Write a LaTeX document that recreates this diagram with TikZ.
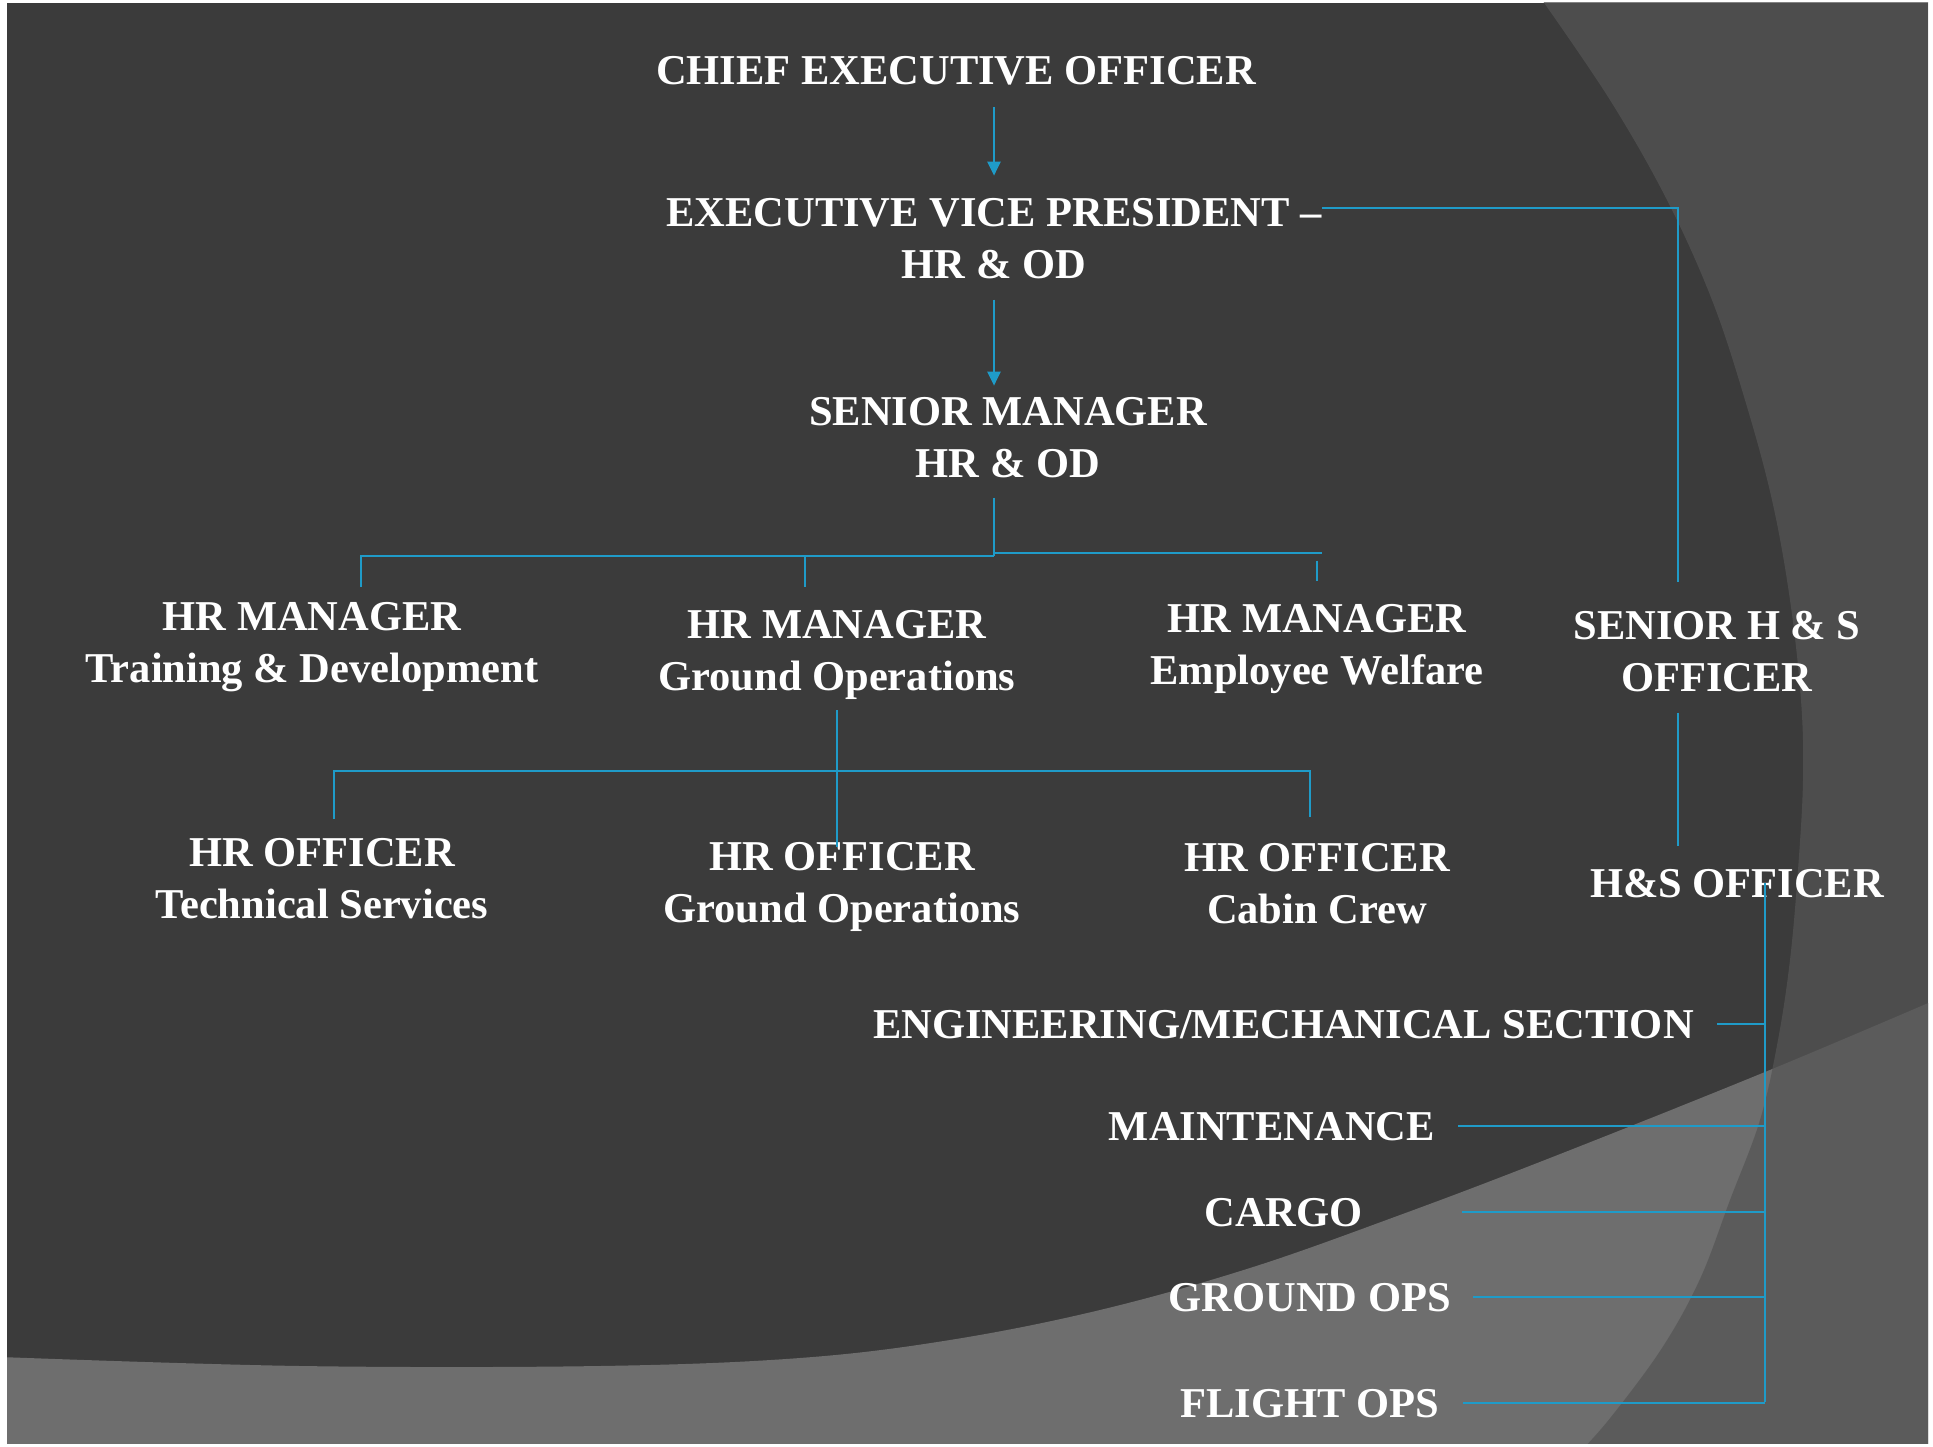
\documentclass[tikz,border=0pt]{standalone}
\usepackage{fontspec}
\setmainfont{Liberation Serif}
\usetikzlibrary{arrows.meta,calc}
\definecolor{bgdark}{HTML}{3B3B3B}
\definecolor{bandgray}{HTML}{6E6E6E}
\definecolor{sidegray}{HTML}{555555}
\definecolor{linkblue}{HTML}{1F9BC8}
\begin{document}
\begin{tikzpicture}[x=1pt,y=-1pt,
  lbl/.style={text=white, font=\fontsize{42.5}{52}\selectfont\bfseries, align=center, inner sep=0pt, anchor=base},
  lblr/.style={lbl, anchor=base east},
  conn/.style={draw=linkblue, line width=2.3pt},
  arr/.style={conn, -{Triangle[width=13pt,length=14pt]}}]
\fill[white] (0,0) rectangle (1933,1447);
\useasboundingbox (0,0) rectangle (1933,1447);
% background slide
\begin{scope}
\clip (7,3) rectangle (1928,1443);
\fill[bgdark] (7,3) rectangle (1928,1443);
\fill[bandgray] plot[smooth,tension=0.6] coordinates {(0,1357) (300,1366) (600,1366) (800,1358) (950,1340) (1100,1310) (1250,1268) (1400,1215) (1550,1158) (1765,1072) (1940,998)} -- (1940,1450) -- (0,1450) -- cycle;
\fill[sidegray, fill opacity=0.73] plot[smooth,tension=0.6] coordinates {(1540,-3) (1610,100) (1667,200) (1712,300) (1745,400) (1772,500) (1790,600) (1801,700) (1803,780) (1798,870) (1790,960) (1778,1040) (1760,1120) (1730,1200) (1700,1279) (1662,1348) (1611,1417) (1580,1452)} -- (1940,1452) -- (1940,-3) -- cycle;
\end{scope}
% nodes (base anchor = baseline of the last line)
\node[lbl] (ceo) at (956,85) {CHIEF EXECUTIVE OFFICER};
\node[lbl] (evp) at (994,279) {EXECUTIVE VICE PRESIDENT \textendash\\HR \& OD};
\node[lbl] (sm) at (1008,477) {SENIOR MANAGER\\HR \& OD};
\node[lbl] (hrm1) at (312,682) {HR MANAGER\\Training \& Development};
\node[lbl] (hrm2) at (837,690) {HR MANAGER\\Ground Operations};
\node[lbl] (hrm3) at (1317,684) {HR MANAGER\\Employee Welfare};
\node[lbl] (shs) at (1717,691) {SENIOR H \& S\\OFFICER};
\node[lbl] (hro1) at (322,918) {HR OFFICER\\Technical Services};
\node[lbl] (hro2) at (842,922) {HR OFFICER\\Ground Operations};
\node[lbl] (hro3) at (1317,923) {HR OFFICER\\Cabin Crew};
\node[lbl] (hso) at (1737,897) {H\&S OFFICER};
\node[lblr] (eng) at (1694,1038) {ENGINEERING/MECHANICAL SECTION};
\node[lblr] (mnt) at (1435,1140) {MAINTENANCE};
\node[lblr] (cargo) at (1363,1226) {CARGO};
\node[lblr] (gops) at (1451,1311) {GROUND OPS};
\node[lblr] (fops) at (1439,1417) {FLIGHT OPS};
% junction coordinates
\coordinate (hsx) at (1678,0);
\coordinate (smb) at (994,556);
\coordinate (rb) at (1322,553);
\coordinate (d1) at (361,587);
\coordinate (d2) at (805,587);
\coordinate (ob) at (837,771);
\coordinate (e1) at (334,819);
\coordinate (e3) at (1310,817);
\coordinate (hsb) at (1765,1402);
% connectors
\draw[arr, shorten <=21pt, shorten >=23pt] (evp.north |- ceo.south) -- (evp.north);
\draw[arr, shorten <=20pt, shorten >=11pt] (evp.south) -- (evp.south |- sm.north);
\draw[conn, shorten >=29pt] ([yshift=-9pt]evp.north east) -| (hsx |- shs.north);
\draw[conn, shorten <=21pt, shorten >=23pt] (hsx |- shs.south) -- (hsx |- hso.north);
\draw[conn, shorten <=20pt] (smb |- sm.south) -- (smb);
\draw[conn] (smb) -| (d1);
\draw[conn] (d2 |- smb) -- (d2);
\draw[conn] ([yshift=3pt]smb) -- (rb);
\draw[conn, shorten >=23pt] ([yshift=43pt]hrm3.north) -- (hrm3.north);
\draw[conn, shorten <=11pt] (hrm2.south) -- ($(hrm2.south |- hro2.north)+(0,5)$);
\draw[conn] (e1) |- (ob) -| (e3);
\draw[conn] (hso.center -| hsb) -- (hsb);
\draw[conn] ([xshift=23pt]eng.east) -- (eng.east -| hsb);
\draw[conn] ([xshift=23pt]mnt.east) -- (mnt.east -| hsb);
\draw[conn] ([xshift=99pt]cargo.east) -- (cargo.east -| hsb);
\draw[conn] ([xshift=22pt]gops.east) -- (gops.east -| hsb);
\draw[conn] ([xshift=24pt]fops.east) -- (fops.east -| hsb);
\end{tikzpicture}
\end{document}
